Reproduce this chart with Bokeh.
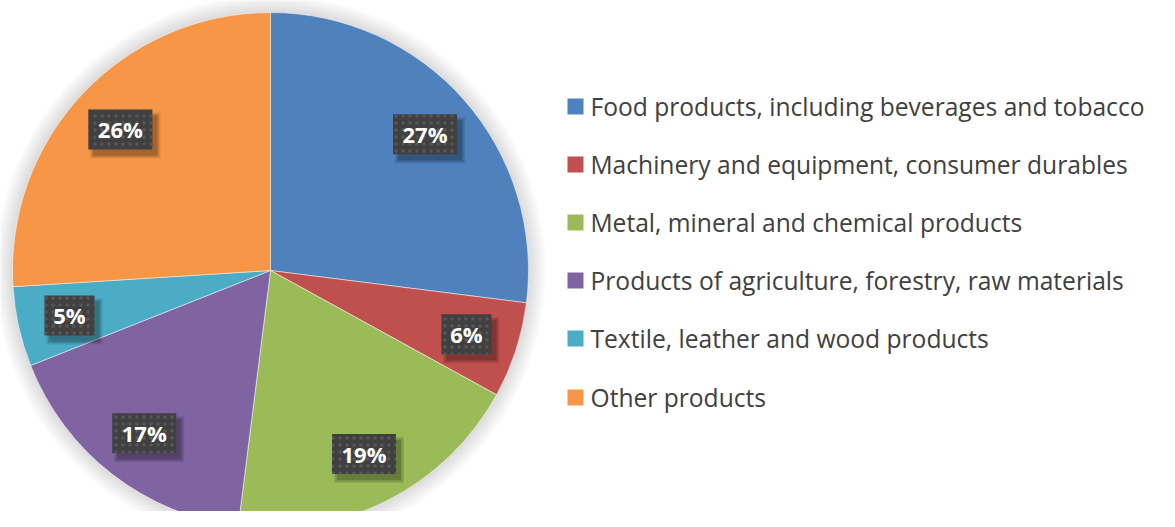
import math
from bokeh.plotting import figure
from bokeh.models import Range1d, ColumnDataSource
from bokeh.core.properties import value
from bokeh.embed import file_html
from bokeh.resources import INLINE

categories = [
    "Food products, including beverages and tobacco",
    "Machinery and equipment, consumer durables",
    "Metal, mineral and chemical products",
    "Products of agriculture, forestry, raw materials",
    "Textile, leather and wood products",
    "Other products",
]
shares = [27, 6, 19, 17, 5, 26]
colors = ["#4F81BD", "#C0504D", "#9BBB59", "#8064A2", "#4BACC6", "#F79646"]

W, H = 1159, 511
CX, CY, R = 270, H - 270, 258
LABEL_R = 206

p = figure(width=W, height=H, output_backend="svg", toolbar_location=None,
           x_range=Range1d(0, W), y_range=Range1d(0, H), min_border=0)
p.axis.visible = False
p.grid.visible = False
p.outline_line_color = None
p.background_fill_color = "white"

# soft outer shadow around the pie
for k in range(18, 0, -1):
    p.circle(x=[CX], y=[CY], radius=R + k, fill_color="black", fill_alpha=0.008,
             line_color=None)

total = float(sum(shares))
starts, ends, mids = [], [], []
acc = 0.0
for v in shares:
    a0 = acc / total
    acc += v
    a1 = acc / total
    starts.append(math.pi / 2 - a1 * 2 * math.pi)
    ends.append(math.pi / 2 - a0 * 2 * math.pi)
    mids.append(math.pi / 2 - (a0 + a1) / 2 * 2 * math.pi)

src = ColumnDataSource(dict(
    x=[CX] * len(shares), y=[CY] * len(shares),
    start=starts, end=ends, color=colors,
))
p.wedge(x="x", y="y", radius=R, start_angle="start", end_angle="end",
        fill_color="color", line_color="white", line_width=0.5, source=src)

# data labels
labels = [f"{v}%" for v in shares]
lx = [CX + LABEL_R * math.cos(m) for m in mids]
ly = [CY + LABEL_R * math.sin(m) for m in mids]
bw = [22 + 14 * len(s) for s in labels]
lsrc = ColumnDataSource(dict(x=lx, y=ly, w=bw, text=labels))
for d, a in [(3, 0.10), (1.5, 0.12), (0, 0.15)]:
    ssrc = ColumnDataSource(dict(sx=[x + 5 for x in lx], sy=[y - 6 for y in ly],
                                 w=[w + d * 2 for w in bw]))
    p.rect(x="sx", y="sy", width="w", height=40 + d * 2,
           fill_color="black", fill_alpha=a, line_color=None, source=ssrc)
p.rect(x="x", y="y", width="w", height=40, fill_color="#404040", line_color=None,
       hatch_pattern="dot", hatch_color="#575757", hatch_scale=7, hatch_weight=1.6,
       source=lsrc)
p.text(x="x", y="y", text="text", text_align="center", text_baseline="middle",
       text_color="white", text_font=value("Open Sans"), text_font_style="bold",
       text_font_size="22px", source=lsrc)

# legend
leg_y = [H - (106 + 58 * i) for i in range(len(categories))]
leg_y[-1] -= 1
gsrc = ColumnDataSource(dict(x=[575] * len(categories), y=leg_y, color=colors,
                             tx=[590] * len(categories), text=categories))
p.scatter(x="x", y="y", marker="square", size=16, fill_color="color",
          line_color=None, source=gsrc)
p.text(x="tx", y="y", text="text", text_align="left", text_baseline="middle",
       text_color="#404040", text_font=value("Open Sans"), text_font_size="24.6px",
       source=gsrc)

open("out.html", "w").write(file_html(p, INLINE))
